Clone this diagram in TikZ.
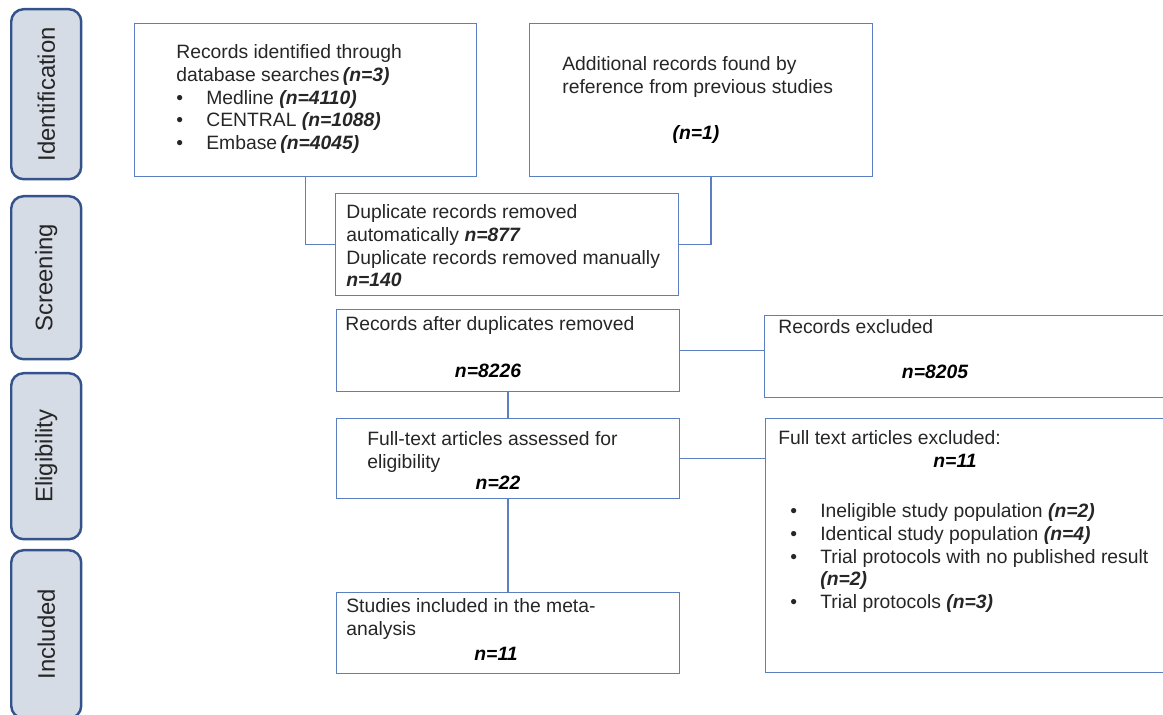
\documentclass[tikz,border=0pt]{standalone}
\usepackage{fontspec}
\setmainfont{Liberation Sans}
\usetikzlibrary{positioning}
\definecolor{boxline}{HTML}{5B7FC0}
\definecolor{barfill}{HTML}{D6DCE6}
\definecolor{barline}{HTML}{34538C}
\newcommand{\nval}[1]{\textbf{\textit{#1}}}
\newcommand{\bul}{\makebox[0.6cm][l]{\textbullet}}

\tikzset{
  stage/.style={draw=barline, line width=1.4pt, fill=barfill, rounded corners=7pt,
    anchor=north west, minimum width=1.4cm, inner sep=0pt},
  stagetext/.style={rotate=90, font=\fontsize{13.6}{15}\selectfont, text=black!85},
  flowbox/.style={draw=boxline, line width=0.7pt, anchor=north west, inner sep=0pt},
  boxtext/.style={anchor=north west, inner sep=0pt, align=left,
    font=\fontsize{11}{13}\selectfont, text=black!85},
  count/.style={anchor=base, inner sep=0pt, font=\fontsize{11}{13}\selectfont\bfseries\itshape},
  link/.style={draw=boxline, line width=0.7pt}
}

\begin{document}
\begin{tikzpicture}[x=0.02cm, y=-0.02cm]
  \useasboundingbox (0,0) rectangle (1163,715);
  % stages on the left
  \node[stage, minimum height=3.4cm] (idbar) at (10,8) {};
  \node[stage, minimum height=3.26cm] (scbar) at (10,195) {};
  \node[stage, minimum height=3.32cm] (elbar) at (10,372) {};
  \node[stage, minimum height=3.36cm] (inbar) at (10,549) {};
  \node[stagetext] (idtxt) at (idbar) {Identification};
  \node[stagetext] (sctxt) at (scbar) {Screening};
  \node[stagetext] (eltxt) at (elbar) {Eligibility};
  \node[stagetext] (intxt) at (inbar) {Included};
  %
  % boxes
  \node[flowbox, minimum width=6.84cm, minimum height=3.06cm] (dbase) at (134,23) {};
  \node[flowbox, minimum width=6.86cm, minimum height=3.06cm] (extra) at (529,23) {};
  \node[flowbox, minimum width=6.86cm, minimum height=2.04cm] (dupl) at (335,193) {};
  \node[flowbox, minimum width=6.86cm, minimum height=1.64cm] (after) at (336,309) {};
  \node[flowbox, minimum width=8.12cm, minimum height=1.64cm] (excl) at (764,315) {};
  \node[flowbox, minimum width=6.86cm, minimum height=1.60cm] (full) at (336,418) {};
  \node[flowbox, minimum width=8.10cm, minimum height=5.08cm] (fexcl) at (765,418) {};
  \node[flowbox, minimum width=6.86cm, minimum height=1.62cm] (incl) at (336,592) {};
  %
  % texts
  \node[boxtext] (dbasetxt) at (176,44) {Records identified through\\
    database searches\,\nval{(n=3)}\\
    \bul Medline \nval{(n=4110)}\\
    \bul CENTRAL \nval{(n=1088)}\\
    \bul Embase\,\nval{(n=4045)}};
  \node[boxtext] (extratxt) at (562,56) {Additional records found by\\
    reference from previous studies};
  \node[count] (extran) at (696,140) {(n=1)};
  \node[boxtext] (dupltxt) at (346,204) {Duplicate records removed\\
    automatically \nval{n=877}\\
    Duplicate records removed manually\\
    \nval{n=140}};
  \node[boxtext] (aftertxt) at (345,316) {Records after duplicates removed};
  \node[count] (aftern) at (488,378) {n=8226};
  \node[boxtext] (excltxt) at (778,319) {Records excluded};
  \node[count] (excln) at (935,379) {n=8205};
  \node[boxtext] (fulltxt) at (367,431) {Full-text articles assessed for\\
    eligibility};
  \node[count] (fulln) at (498,490) {n=22};
  \node[boxtext] (fexcltxt) at (778,430) {Full text articles excluded:};
  \node[count] (fexcln) at (955,468) {n=11};
  \node[boxtext] (reasons) at (790,503) {\bul Ineligible study population \nval{(n=2)}\\
    \bul Identical study population \nval{(n=4)}\\
    \bul Trial protocols with no published result\\
    \hspace*{0.6cm}\nval{(n=2)}\\
    \bul Trial protocols \nval{(n=3)}};
  \node[boxtext] (incltxt) at (346,598) {Studies included in the meta-\\
    analysis};
  \node[count] (incln) at (496,661) {n=11};
  %
  % connectors
  \draw[link] (dbase.south) |- (dupl.west);
  \draw[link] ([xshift=0.2cm]extra.south) |- (dupl.east);
  \draw[link] (after.east) -- (after.east -| excl.west);
  \draw[link] (after.south) -- (full.north);
  \draw[link] (full.east) -- (full.east -| fexcl.west);
  \draw[link] (full.south) -- (incl.north);
\end{tikzpicture}
\end{document}
